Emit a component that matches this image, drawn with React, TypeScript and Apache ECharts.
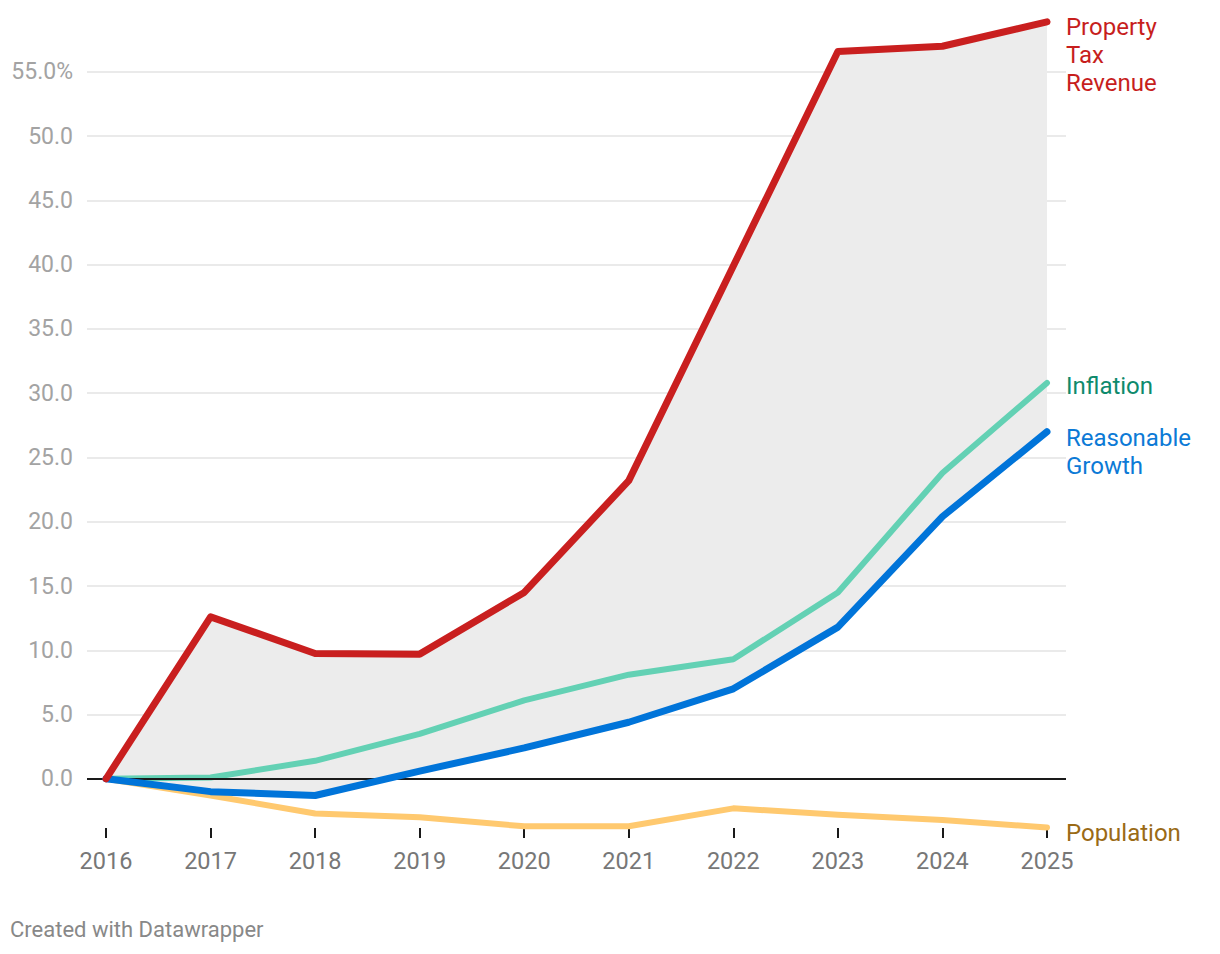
import React, { useEffect, useRef } from "react";
import * as echarts from "echarts";

const years = [2016, 2017, 2018, 2019, 2020, 2021, 2022, 2023, 2024, 2025];
const propertyTax = [0, 12.6, 9.75, 9.7, 14.5, 23.2, 39.9, 56.6, 57.0, 58.9];
const inflation = [0, 0.1, 1.4, 3.5, 6.1, 8.1, 9.3, 14.5, 23.8, 30.8];
const reasonable = [0, -1.0, -1.3, 0.6, 2.4, 4.4, 7.0, 11.8, 20.4, 27.0];
const population = [0, -1.3, -2.7, -3.0, -3.7, -3.7, -2.3, -2.8, -3.2, -3.8];
const yTicks = [0, 5, 10, 15, 20, 25, 30, 35, 40, 45, 50, 55];

const FONT = "Roboto, 'Noto Sans', sans-serif";

export default function App() {
  const ref = useRef<HTMLDivElement>(null);
  useEffect(() => {
    document.body.style.margin = "0";
    if (!ref.current) return;
    const chart = echarts.init(ref.current, null, { renderer: "svg" });
    const pairs = (arr: number[]) => years.map((y, i) => [y, arr[i]]);
    const band = years.map((y, i) => [y, propertyTax[i], reasonable[i]]);

    const lineSeries = (name: string, data: number[], color: string, labelColor: string, dy: number, width: number, z: number, extra: any = {}) => ({
      type: "line",
      name,
      data: pairs(data),
      symbol: "none",
      clip: false,
      z,
      lineStyle: { color, width, cap: "round", join: "round" },
      endLabel: {
        show: true,
        formatter: name,
        color: labelColor,
        fontFamily: FONT,
        fontSize: 24,
        lineHeight: 28,
        align: "left",
        verticalAlign: "top",
        distance: 0,
        offset: [19, dy],
      },
      ...extra,
    });

    chart.setOption({
      animation: false,
      textStyle: { fontFamily: FONT },
      grid: { left: 87, right: 154, top: 18, bottom: 126 },
      xAxis: {
        type: "value",
        min: 2015.818,
        max: 2025.182,
        axisLine: { show: false, onZero: false },
        splitLine: { show: false },
        axisTick: {
          show: true,
          customValues: years,
          length: 10,
          lineStyle: { color: "#1a1a1a", width: 2 },
        },
        axisLabel: {
          customValues: years,
          formatter: (v: number) => String(v),
          color: "#777777",
          fontSize: 23.5,
          fontFamily: FONT,
          margin: 21,
        },
      },
      yAxis: {
        type: "value",
        min: -3.83,
        max: 59.2,
        axisLine: { show: false },
        axisTick: { show: false, customValues: yTicks },
        axisLabel: {
          customValues: yTicks,
          formatter: (v: number) => (v === 55 ? "55.0%" : v.toFixed(1)),
          color: "#a3a3a3",
          fontSize: 23,
          fontFamily: FONT,
          margin: 14,
        },
        splitLine: { show: true, lineStyle: { color: "#e3e3e3", width: 1.5 } },
      },
      series: [
        {
          type: "custom",
          name: "gap",
          data: band,
          encode: { x: 0, y: [1, 2] },
          z: 1,
          silent: true,
          renderItem: (params: any, api: any) => {
            if (params.dataIndex !== 0) return null;
            const top = band.map((d) => api.coord([d[0], d[1]]));
            const bottom = band.map((d) => api.coord([d[0], d[2]])).reverse();
            return {
              type: "polygon",
              shape: { points: top.concat(bottom) },
              style: { fill: "#ececec" },
            };
          },
        },
        lineSeries("Population", population, "#ffc96f", "#9a6a16", -9, 6, 3, {
          markLine: {
            silent: true,
            symbol: "none",
            label: { show: false },
            lineStyle: { color: "#1a1a1a", width: 2, type: "solid" },
            data: [{ yAxis: 0 }],
          },
        }),
        lineSeries("Inflation", inflation, "#63d1b4", "#0e8a6c", -11, 6, 4),
        lineSeries("Reasonable\nGrowth", reasonable, "#0074d9", "#0c7ad6", -8, 7, 5),
        lineSeries("Property\nTax\nRevenue", propertyTax, "#c91f1f", "#c71e1d", -9, 7, 6),
      ],
      graphic: [
        {
          type: "text",
          left: 10,
          top: 918,
          style: { text: "Created with Datawrapper", fill: "#888888", fontSize: 22, fontFamily: FONT },
        },
      ],
    });
    return () => chart.dispose();
  }, []);
  return <div ref={ref} style={{ width: 1220, height: 954 }} />;
}
